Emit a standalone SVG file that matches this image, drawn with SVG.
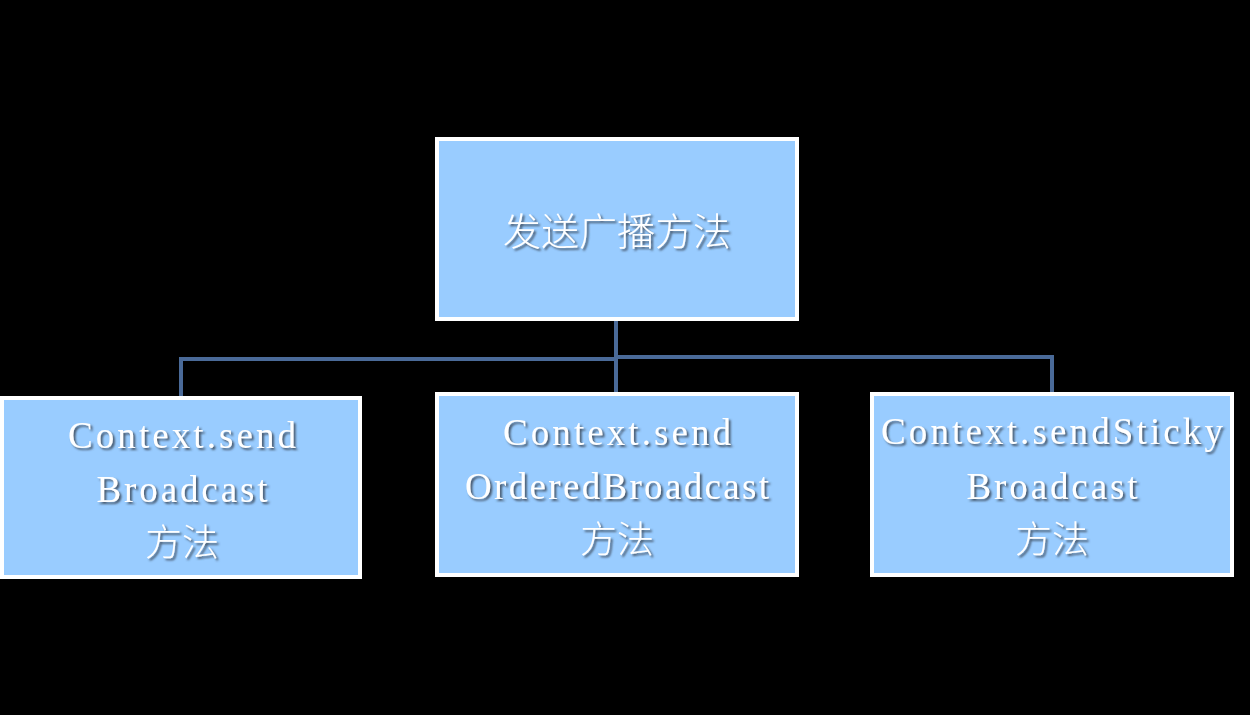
<svg xmlns="http://www.w3.org/2000/svg" width="1250" height="715" viewBox="0 0 1250 715">
  <defs>
    <filter id="shadow" x="-10%" y="-30%" width="120%" height="160%">
      <feDropShadow dx="2" dy="2" stdDeviation="1" flood-color="#3a4a5a" flood-opacity="0.9"/>
    </filter>
  </defs>
  <style>
    .box { fill: #99ccff; stroke: #ffffff; stroke-width: 4; }
    .conn { fill: none; stroke: #4a6a98; stroke-width: 4; }
    .lat { font-family: "Liberation Serif", "Noto Sans CJK SC", serif; font-size: 37px; fill: #ffffff; text-anchor: middle; filter: url(#shadow); }
    .cjk { font-family: "Noto Sans CJK SC", sans-serif; font-size: 37px; font-weight: 300; fill: #ffffff; text-anchor: middle; filter: url(#shadow); }
  </style>
  <rect x="0" y="0" width="1250" height="715" fill="#000000"/>
  <g id="connectors">
    <path class="conn" d="M616 320 V393"/>
    <path class="conn" d="M616 359 H181 V397"/>
    <path class="conn" d="M616 357 H1052 V393"/>
  </g>
  <g id="root">
    <rect class="box" x="437" y="139" width="360" height="180"/>
    <text class="cjk" x="617" y="245" style="font-size:38px">发送广播方法</text>
  </g>
  <g id="sendBroadcast">
    <rect class="box" x="2" y="398" width="358" height="179"/>
    <text class="lat" x="182" y="448" textLength="228" lengthAdjust="spacing">Context.send</text>
    <text class="lat" x="182" y="502" textLength="171" lengthAdjust="spacing">Broadcast</text>
    <text class="cjk" x="182" y="556">方法</text>
  </g>
  <g id="sendOrderedBroadcast">
    <rect class="box" x="437" y="394" width="360" height="181"/>
    <text class="lat" x="617" y="445" textLength="228" lengthAdjust="spacing">Context.send</text>
    <text class="lat" x="617" y="499" textLength="304" lengthAdjust="spacing">OrderedBroadcast</text>
    <text class="cjk" x="617" y="553">方法</text>
  </g>
  <g id="sendStickyBroadcast">
    <rect class="box" x="872" y="394" width="360" height="181"/>
    <text class="lat" x="1052" y="444" textLength="342" lengthAdjust="spacing">Context.sendSticky</text>
    <text class="lat" x="1052" y="499" textLength="171" lengthAdjust="spacing">Broadcast</text>
    <text class="cjk" x="1052" y="553">方法</text>
  </g>
</svg>
